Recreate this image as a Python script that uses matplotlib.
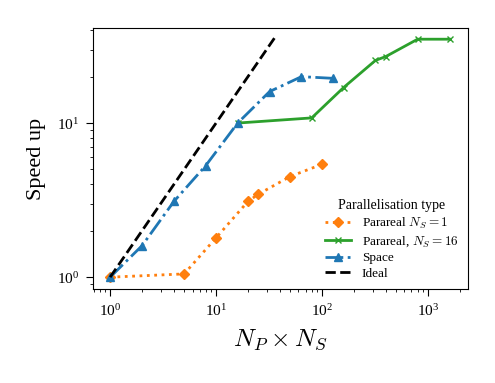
import matplotlib
matplotlib.use('Agg')
import matplotlib.pyplot as plt

plt.rcParams['font.family'] = ['Liberation Serif']
plt.rcParams['mathtext.fontset'] = 'cm'

# Parareal, N_S = 1
para1_x = [1, 5, 10, 20, 25, 50, 100]
para1_y = [1.0, 1.05, 1.8, 3.1, 3.45, 4.5, 5.4]

# Parareal, N_S = 16
para16_x = [16, 80, 160, 320, 400, 800, 1600]
para16_y = [10.0, 10.8, 17.0, 25.5, 27.0, 35.0, 35.0]

# Space parallelisation
space_x = [1, 2, 4, 8, 16, 32, 64, 128]
space_y = [1.0, 1.6, 3.1, 5.3, 10.0, 16.0, 20.0, 19.5]

# Ideal speed up
ideal_x = [1, 36]
ideal_y = [1, 36]

fig, ax = plt.subplots(figsize=(4.95, 3.83), dpi=100)

ax.plot(para1_x, para1_y, color='C1', linestyle=':', linewidth=2, marker='D',
        markersize=5.5, label=r'Parareal $N_S = 1$')
ax.plot(para16_x, para16_y, color='C2', linestyle='-', linewidth=2, marker='x',
        markersize=5, label=r'Parareal, $N_S = 16$')
ax.plot(space_x, space_y, color='C0', linestyle='-.', linewidth=2, marker='^',
        markersize=6, label='Space')
ax.plot(ideal_x, ideal_y, color='black', linestyle='--', linewidth=2, label='Ideal')

ax.set_xscale('log')
ax.set_yscale('log')
ax.set_xlim(0.69, 2380)
ax.set_ylim(0.836, 41.4)

ax.tick_params(labelsize=11, pad=5)
ax.tick_params(which='major', length=5)
ax.set_xlabel(r'$N_P \times N_S$', fontsize=18, labelpad=6)
ax.set_ylabel('Speed up', fontsize=16, labelpad=8)

leg = ax.legend(title='Parallelisation type', loc='lower right', frameon=False,
                fontsize=9.5, title_fontsize=10, labelspacing=0.25,
                borderaxespad=0.3)

plt.subplots_adjust(left=0.188, right=0.945, top=0.927, bottom=0.245)
plt.savefig('out.png')
